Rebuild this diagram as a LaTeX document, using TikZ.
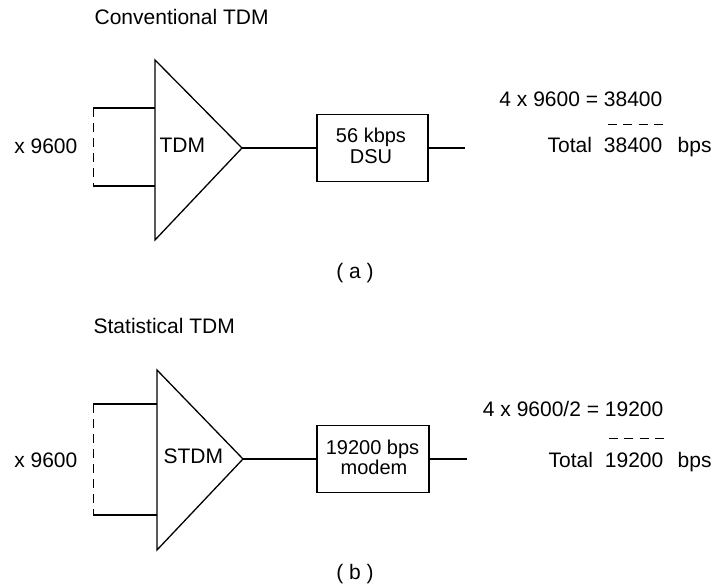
\documentclass[tikz,border=0pt]{standalone}
\usepackage{fontspec}
\setmainfont{Liberation Sans}
\begin{document}
\begin{tikzpicture}[x=1pt,y=-1pt, line width=1.3pt, line join=miter,
  txt/.style={inner sep=0pt, font=\fontsize{21}{19}\selectfont},
  btxt/.style={inner sep=0pt, font=\fontsize{20}{19}\selectfont},
  boxnode/.style={draw, minimum width=111pt, minimum height=67pt, inner sep=0pt},
  dsh/.style={line width=1pt, dash pattern=on 9pt off 6pt},
  dsh2/.style={line width=1pt, dash pattern=on 9pt off 6.33pt}]
\useasboundingbox (0,0) rectangle (715,585);

% ---------- (a) ----------
\node[txt, anchor=base west] (ta) at (94,25) {Conventional TDM};
\coordinate (a1) at (155,60);
\coordinate (a2) at (155,240);
\coordinate (atip) at (242,148);
\draw (a1) -- (a2) -- (atip) -- cycle;
\node[txt, anchor=base west] (tdma) at (159,153) {TDM};
\coordinate (ain1) at (93,108);
\coordinate (ain1e) at (155,108);
\coordinate (ain2) at (93,186);
\coordinate (ain2e) at (155,186);
\draw (ain1) -- (ain1e);
\draw (ain2) -- (ain2e);
\draw[dsh] (ain1) -- (ain2);
\node[txt, anchor=base east] (xa) at (78,154) {x 9600};
\node[boxnode] (dsu) at (372.5,148) {};
\draw (atip) -- (dsu.west);
\coordinate (aout) at (465,148);
\draw (dsu.east) -- (aout);
\node[btxt, anchor=base] (dsu1) at (371,143) {56 kbps};
\node[btxt, anchor=base] (dsu2) at (371,164) {DSU};
\node[txt, anchor=base east] (eqa) at (663,107) {4 x 9600 = 38400};
\coordinate (da1) at (608,125);
\coordinate (da2) at (663,125);
\draw[dsh2] (da1) -- (da2);
\node[txt, anchor=base west] (tota) at (547,153) {Total};
\node[txt, anchor=base east] (suma) at (663,153) {38400};
\node[txt, anchor=base west] (bpsa) at (677,153) {bps};
\node[txt, anchor=base] (capa) at (355,279) {( a )};

% ---------- (b) ----------
\node[txt, anchor=base west] (tb) at (93,334) {Statistical TDM};
\coordinate (b1) at (157,370);
\coordinate (b2) at (157,550);
\coordinate (btip) at (243,459);
\draw (b1) -- (b2) -- (btip) -- cycle;
\node[txt, anchor=base west] (tdmb) at (163,463) {STDM};
\coordinate (bin1) at (93,404);
\coordinate (bin1e) at (157,404);
\coordinate (bin2) at (93,515);
\coordinate (bin2e) at (157,515);
\draw (bin1) -- (bin1e);
\draw (bin2) -- (bin2e);
\draw[dsh] (bin1) -- (bin2);
\node[txt, anchor=base east] (xb) at (78,467) {x 9600};
\node[boxnode, minimum width=112pt] (modem) at (373,459) {};
\draw (btip) -- (modem.west);
\coordinate (bout) at (467,459);
\draw (modem.east) -- (bout);
\node[btxt, anchor=base] (mod1) at (372.5,454) {19200 bps};
\node[btxt, anchor=base] (mod2) at (374,474) {modem};
\node[txt, anchor=base east] (eqb) at (664,416) {4 x 9600/2 = 19200};
\coordinate (db1) at (609,438);
\coordinate (db2) at (664,438);
\draw[dsh2] (db1) -- (db2);
\node[txt, anchor=base west] (totb) at (548,467) {Total};
\node[txt, anchor=base east] (sumb) at (664,467) {19200};
\node[txt, anchor=base west] (bpsb) at (677,467) {bps};
\node[txt, anchor=base] (capb) at (355,579) {( b )};
\end{tikzpicture}
\end{document}
